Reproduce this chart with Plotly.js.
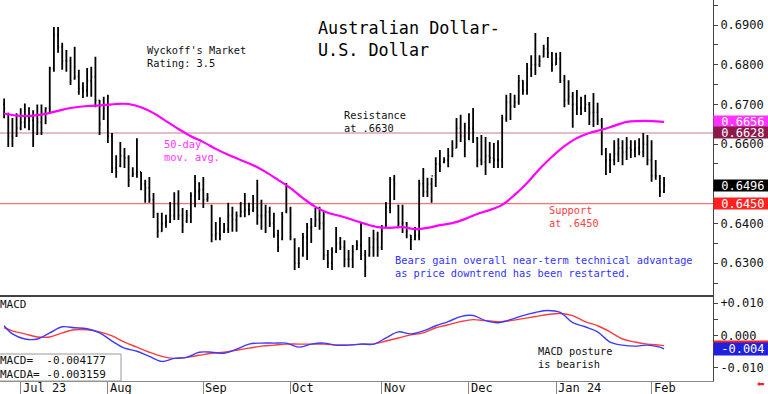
<!DOCTYPE html>
<html><head><meta charset="utf-8">
<script src="https://cdn.plot.ly/plotly-3.0.1.min.js"></script>
<style>html,body{margin:0;padding:0;background:#fff}#chart{width:768px;height:394px}</style>
</head><body><div id="chart"></div>
<script>
// ---- trading days (x categories) ----
const tradingDays = {
  '2023-06': [27,28,29,30],
  '2023-07': [3,4,5,6,7,10,11,12,13,14,17,18,19,20,21,24,25,26,27,28,31],
  '2023-08': [1,2,3,4,7,8,9,10,11,14,15,16,17,18,21,22,23,24,25,28,29,30,31],
  '2023-09': [1,4,5,6,7,8,11,12,13,14,15,18,19,20,21,22,25,26,27,28,29],
  '2023-10': [2,3,4,5,6,9,10,11,12,13,16,17,18,19,20,23,24,25,26,27,30,31],
  '2023-11': [1,2,3,6,7,8,9,10,13,14,15,16,17,20,21,22,24,27,28,29,30],
  '2023-12': [1,4,5,6,7,8,11,12,13,14,15,18,19,20,21,22,25,26,27,28,29],
  '2024-01': [1,2,3,4,5,8,9,10,11,12,15,16,17,18,19,22,23,24,25,26,29,30,31],
  '2024-02': [1,2,5,6]
};
const dates = [];
for (const m in tradingDays) tradingDays[m].forEach(d => dates.push(m + '-' + String(d).padStart(2,'0')));

// ---- price bars ----
const open = [.6700,.6675,.6620,.6620,.6640,.6655,.6665,.6660,.6625,.6655,.6680,.6690,.6790,.6875,.6845,.6810,.6810,.6765,.6770,.6740,
.6735,.6760,.6770,.6710,.6665,.6690,.6620,.6540,.6545,.6570,.6565,.6520,.6525,.6530,.6500,.6490,.6460,.6425,.6380,.6400,
.6405,.6420,.6450,.6420,.6405,.6420,.6470,.6480,.6485,.6460,.6445,.6370,.6375,.6380,.6385,.6420,.6410,.6420,.6430,.6435,
.6435,.6440,.6420,.6420,.6430,.6400,.6370,.6360,.6430,.6435,.6360,.6300,.6320,.6365,.6390,.6395,.6410,.6400,.6320,.6300,
.6330,.6350,.6340,.6310,.6310,.6335,.6345,.6320,.6320,.6340,.6360,.6340,.6395,.6440,.6510,.6445,.6400,.6400,.6370,.6360,
.6370,.6500,.6480,.6500,.6520,.6550,.6555,.6560,.6570,.6590,.6640,.6620,.6615,.6640,.6615,.6560,.6555,.6570,.6565,.6560,
.6560,.6665,.6705,.6695,.6705,.6760,.6735,.6790,.6800,.6800,.6820,.6840,.6830,.6800,.6815,.6760,.6710,.6720,.6700,.6690,
.6690,.6700,.6680,.6680,.6660,.6585,.6560,.6560,.6575,.6590,.6580,.6590,.6585,.6590,.6580,.6600,.6560,.6520,.6520,.6480];
const high = [.6715,.6679,.6666,.6678,.6690,.6702,.6693,.6685,.6700,.6700,.6693,.6795,.6895,.6895,.6855,.6837,.6820,.6845,.6787,.6756,
.6792,.6795,.6820,.6711,.6719,.6724,.6628,.6572,.6605,.6590,.6572,.6542,.6615,.6530,.6510,.6517,.6477,.6427,.6427,.6422,
.6454,.6479,.6484,.6439,.6434,.6479,.6522,.6504,.6517,.6477,.6447,.6404,.6416,.6401,.6452,.6442,.6430,.6454,.6477,.6452,
.6472,.6510,.6460,.6447,.6442,.6427,.6384,.6429,.6502,.6442,.6363,.6340,.6376,.6401,.6414,.6439,.6442,.6430,.6333,.6340,
.6391,.6366,.6358,.6333,.6346,.6358,.6401,.6333,.6366,.6384,.6379,.6396,.6454,.6517,.6522,.6447,.6447,.6404,.6371,.6391,
.6510,.6540,.6515,.6515,.6567,.6585,.6567,.6590,.6610,.6666,.6674,.6654,.6678,.6691,.6618,.6623,.6618,.6605,.6603,.6610,
.6674,.6724,.6729,.6724,.6774,.6761,.6804,.6824,.6880,.6824,.6850,.6870,.6832,.6830,.6832,.6774,.6761,.6731,.6736,.6719,
.6724,.6706,.6729,.6704,.6666,.6590,.6577,.6610,.6615,.6610,.6618,.6610,.6610,.6615,.6628,.6623,.6610,.6560,.6522,.6517];
const low = [.6665,.6593,.6593,.6618,.6635,.6640,.6635,.6593,.6623,.6623,.6650,.6678,.6782,.6830,.6787,.6782,.6749,.6762,.6724,.6716,
.6719,.6719,.6693,.6623,.6661,.6603,.6527,.6515,.6542,.6540,.6492,.6517,.6515,.6484,.6452,.6452,.6414,.6364,.6379,.6389,
.6401,.6409,.6409,.6376,.6401,.6401,.6441,.6459,.6439,.6455,.6353,.6358,.6358,.6376,.6376,.6379,.6379,.6416,.6416,.6421,
.6429,.6397,.6384,.6376,.6391,.6364,.6328,.6358,.6426,.6358,.6283,.6288,.6316,.6308,.6351,.6391,.6384,.6308,.6288,.6283,
.6326,.6333,.6290,.6290,.6288,.6333,.6308,.6265,.6316,.6316,.6316,.6333,.6391,.6426,.6459,.6391,.6376,.6363,.6333,.6358,
.6358,.6467,.6467,.6452,.6492,.6530,.6552,.6542,.6567,.6590,.6605,.6567,.6610,.6603,.6542,.6547,.6522,.6552,.6540,.6540,
.6540,.6656,.6661,.6691,.6699,.6724,.6724,.6769,.6774,.6794,.6819,.6817,.6782,.6799,.6754,.6693,.6699,.6641,.6673,.6673,
.6681,.6648,.6643,.6648,.6572,.6522,.6527,.6547,.6555,.6547,.6560,.6565,.6567,.6572,.6567,.6547,.6505,.6510,.6467,.6477];
const close = [.6690,.6620,.6615,.6640,.6655,.6665,.6660,.6620,.6655,.6680,.6690,.6790,.6875,.6845,.6810,.6810,.6760,.6770,.6740,.6735,
.6760,.6770,.6710,.6650,.6690,.6620,.6540,.6530,.6570,.6565,.6510,.6525,.6530,.6500,.6490,.6460,.6430,.6380,.6400,.6405,
.6420,.6450,.6420,.6395,.6420,.6470,.6480,.6485,.6460,.6465,.6370,.6375,.6370,.6385,.6420,.6410,.6420,.6430,.6435,.6435,
.6440,.6420,.6420,.6430,.6400,.6370,.6340,.6415,.6435,.6365,.6300,.6300,.6365,.6390,.6390,.6410,.6400,.6320,.6300,.6330,
.6350,.6340,.6310,.6310,.6330,.6345,.6320,.6290,.6340,.6360,.6340,.6380,.6440,.6510,.6500,.6400,.6400,.6380,.6360,.6370,
.6500,.6480,.6500,.6520,.6550,.6545,.6560,.6570,.6590,.6640,.6620,.6600,.6640,.6630,.6560,.6555,.6570,.6565,.6560,.6560,
.6665,.6705,.6695,.6705,.6760,.6735,.6790,.6800,.6800,.6810,.6840,.6830,.6800,.6815,.6760,.6710,.6720,.6700,.6690,.6690,
.6700,.6680,.6680,.6660,.6620,.6560,.6560,.6575,.6590,.6580,.6590,.6585,.6590,.6580,.6600,.6560,.6520,.6520,.6480,.6496];

// ---- 50-day moving average, read at sample bars ----
const maIdx = [0,4,8,12,16,20,24,27,30,33,36,39,42,45,48,51,54,57,60,63,66,69,72,75,78,81,84,87,90,93,96,99,102,105,108,111,114,117,120,123,126,129,132,135,138,141,144,147,150,153,156,159];
const maVals = [.6677,.6671,.6673,.6681,.6691,.6696,.6698,.6701,.6701,.6693,.6678,.6658,.6638,.6620,.6605,.6588,.6573,.6560,.6547,.6530,.6510,.6489,.6464,.6442,.6427,.6419,.6409,.6399,.6391,.6389,.6391,.6386,.6389,.6396,.6401,.6411,.6424,.6434,.6447,.6472,.6502,.6537,.6568,.6595,.6615,.6628,.6636,.6646,.6656,.6658,.6658,.6656];

// ---- MACD (blue) and MACD average (red), read at sample bars ----
const macdIdx = [0,2,5,8,11,14,17,20,23,26,29,32,35,38,41,44,47,50,53,56,59,62,65,68,71,74,77,80,83,86,89,92,95,98,101,104,107,110,113,116,119,122,125,128,131,134,137,140,143,146,149,152,155,158,159];
const macdVals = [0.0030,0.00047,-0.0011,-0.0011,0.00079,0.00268,0.00237,0.00205,0.00079,-0.00174,-0.00394,-0.00489,-0.00647,-0.00804,-0.0071,-0.00678,-0.0052,-0.0052,-0.00552,-0.00426,-0.00268,-0.00237,-0.00237,-0.00237,-0.00363,-0.00268,-0.00237,-0.003,-0.003,-0.00268,-0.00268,-0.00079,0.0011,0.00047,0.00142,0.003,0.00426,0.00584,0.00615,0.00457,0.00394,0.00489,0.00615,0.0071,0.00773,0.0071,0.00394,0.00268,0.0011,-0.00205,-0.003,-0.00331,-0.003,-0.00363,-0.004177];
const signalVals = [0.00237,0.00142,0.00047,-0.00047,-0.00047,0.00079,0.00174,0.00174,0.0011,-0.00016,-0.00205,-0.00363,-0.0052,-0.00647,-0.0071,-0.00678,-0.00615,-0.00552,-0.0052,-0.00457,-0.00394,-0.00331,-0.003,-0.00268,-0.00268,-0.00268,-0.00268,-0.003,-0.003,-0.00268,-0.00268,-0.00174,-0.00079,0.00016,0.00079,0.00237,0.00331,0.00426,0.00489,0.00457,0.00426,0.00457,0.0052,0.00584,0.00647,0.00678,0.00615,0.00426,0.003,0.0011,-0.0011,-0.00205,-0.00268,-0.003,-0.003159];

// ---- axes ticks / levels ----
const monthTickDates = ['2023-07-03','2023-08-01','2023-09-01','2023-10-02','2023-11-01','2023-12-01','2024-01-01','2024-02-01'];
const monthTickText = ['Jul 23','Aug','Sep','Oct','Nov','Dec','Jan 24','Feb'];
const priceTicks = [0.63,0.64,0.65,0.66,0.67,0.68,0.69];
const macdTicks = [0.01,0,-0.01];
const macdTickText = ['+0.010','0.000','-0.010'];
const resistanceLevel = 0.6628;
const supportLevel = 0.6450;

// ---- layout helpers (pixel placement) ----
const W = 768, H = 394, ML = 0, MR = 55, MT = 0, MB = 13;
const PW = W - ML - MR, PH = H - MT - MB;
const SPLIT = 296; // pixel y of panel boundary
const split = (PH - (SPLIT - MT)) / PH;
const FONT = 'DejaVu Sans Mono';
const px = x => (x - ML) / PW;
const py = y => (PH - (y - MT)) / PH;

function block(lines, x, yCenter, size, color) {
  return {xref:'paper', yref:'paper', x:px(x), y:py(yCenter), xanchor:'left', yanchor:'middle', align:'left',
    text:lines.join('<br>'), showarrow:false, borderpad:0, font:{family:FONT, size:size, color:color}};
}
function valueBox(text, yval, yref, bg, h) {
  return {xref:'paper', yref:yref, x:1, y:yval, xanchor:'left', yanchor:'middle',
    text:'\u00a0' + text, showarrow:false, bgcolor:bg, width:56, height:h || 11, align:'left', borderpad:0,
    font:{family:FONT, size:12, color:'#ffffff'}};
}

const lastMA = maVals[maVals.length-1];
const lastClose = close[close.length-1];
const lastMacd = macdVals[macdVals.length-1];
const lastSignal = signalVals[signalVals.length-1];

// the 0.6500 label sits under the last-price box in the reference, so it is not written
const priceTickText = priceTicks.map(v => Math.abs(v - 0.65) < 1e-9 ? '' : v.toFixed(4));

const traces = [
  {type:'ohlc', x:dates, open:open, high:high, low:low, close:close, xaxis:'x', yaxis:'y',
   increasing:{line:{color:'#000000', width:1.8}}, decreasing:{line:{color:'#000000', width:1.8}},
   tickwidth:0.25, hoverinfo:'skip', showlegend:false},
  {type:'scatter', mode:'lines', x:maIdx.map(i=>dates[i]), y:maVals, xaxis:'x', yaxis:'y',
   line:{color:'#ff00ff', width:2.2, shape:'spline'}, hoverinfo:'skip', showlegend:false},
  {type:'scatter', mode:'lines', x:macdIdx.map(i=>dates[i]), y:signalVals, xaxis:'x', yaxis:'y2',
   line:{color:'#ff3b3b', width:1.4, shape:'spline'}, hoverinfo:'skip', showlegend:false},
  {type:'scatter', mode:'lines', x:macdIdx.map(i=>dates[i]), y:macdVals, xaxis:'x', yaxis:'y2',
   line:{color:'#3b3bff', width:1.4, shape:'spline'}, hoverinfo:'skip', showlegend:false}
];

const priceTop = 0.69 + 25/3970, priceBot = 0.69 - 271/3970;

const monthLabels = monthTickDates.map((d, k) => ({
  xref:'x', yref:'paper', x:d, y:py(388), xanchor:'left', yanchor:'middle', xshift:1,
  text:monthTickText[k], showarrow:false, borderpad:0, font:{family:FONT, size:12, color:'#111'}
}));

const layout = {
  width:W, height:H, margin:{l:ML, r:MR, t:MT, b:MB},
  paper_bgcolor:'#ffffff', plot_bgcolor:'#ffffff', showlegend:false,
  font:{family:FONT, size:12, color:'#111'},
  xaxis:{type:'category', categoryorder:'array', categoryarray:dates, range:[-0.99, 170.8], anchor:'y2',
    rangeslider:{visible:false}, showgrid:false, zeroline:false,
    showline:true, linecolor:'#888', linewidth:1,
    tickmode:'array', tickvals:monthTickDates, ticktext:monthTickDates.map(()=>''),
    ticks:'outside', ticklen:13, tickcolor:'#888', tickwidth:1},
  yaxis:{domain:[split,1], range:[priceBot, priceTop], side:'right', anchor:'x',
    showgrid:false, zeroline:false, showline:true, linecolor:'#444', linewidth:1,
    tickmode:'array', tickvals:priceTicks, ticktext:priceTickText,
    ticks:'outside', ticklen:4, tickcolor:'#444',
    minor:{ticks:'outside', ticklen:4, tickcolor:'#444', dtick:0.005, tick0:0.6},
    tickfont:{family:FONT, size:12, color:'#111'}},
  yaxis2:{domain:[0,split], range:[-0.0141, 0.0122], side:'right', anchor:'x',
    showgrid:false, zeroline:false, showline:true, linecolor:'#444', linewidth:1,
    tickmode:'array', tickvals:macdTicks, ticktext:macdTickText,
    ticks:'outside', ticklen:4, tickcolor:'#444',
    minor:{ticks:'outside', ticklen:4, tickcolor:'#444', dtick:0.005, tick0:0},
    tickfont:{family:FONT, size:12, color:'#111'}},
  shapes:[
    {type:'line', xref:'paper', yref:'y', x0:0, x1:1, y0:resistanceLevel, y1:resistanceLevel,
     line:{color:'#d9a6bd', width:1.6}, layer:'below'},
    {type:'line', xref:'paper', yref:'y', x0:0, x1:1, y0:supportLevel, y1:supportLevel,
     line:{color:'#ff7474', width:1.4}, layer:'below'},
    {type:'line', xref:'paper', yref:'paper', x0:0, x1:1, y0:split, y1:split,
     line:{color:'#000000', width:1.6}},
    {type:'rect', xref:'paper', yref:'paper', x0:px(-2), x1:px(121), y0:0, y1:py(354),
     line:{color:'#999999', width:1}, fillcolor:'#ffffff'}
  ],
  annotations:[
    block(['Australian Dollar-','U.S. Dollar'], 317, 38.5, 16.8, '#000'),
    block(["Wyckoff's Market",'Rating: 3.5'], 146, 56.5, 10.3, '#111'),
    block(['50-day','mov. avg.'], 163, 150, 10.3, '#ff33ff'),
    block(['Resistance','at .6630'], 343, 121.5, 10.3, '#111'),
    block(['Support','at .6450'], 548, 216.5, 10.3, '#ff4040'),
    block(['Bears gain overall near-term technical advantage','as price downtrend has been restarted.'], 394, 266, 10.3, '#3333ff'),
    block(['MACD'], -1, 304, 11, '#111'),
    block(['MACD posture','is bearish'], 537, 357, 10.3, '#111'),
    block(['MACD=\u00a0\u00a0' + lastMacd.toFixed(6), 'MACDA=\u00a0' + lastSignal.toFixed(6)], -1, 367.8, 11, '#111'),
    valueBox(lastMA.toFixed(4), lastMA, 'y', '#ff33ff'),
    valueBox(resistanceLevel.toFixed(4), resistanceLevel, 'y', '#8b1a4a'),
    valueBox(lastClose.toFixed(4), lastClose, 'y', '#000000'),
    valueBox(supportLevel.toFixed(4), supportLevel, 'y', '#ff2020'),
    valueBox('', lastSignal, 'y2', '#ff2020', 9),
    valueBox(lastMacd.toFixed(3), lastMacd, 'y2', '#2020dd', 12),
    {xref:'paper', yref:'paper', x:px(756), y:py(384), xanchor:'left', yanchor:'middle',
     text:'\u2b05', showarrow:false, borderpad:0, font:{family:'DejaVu Sans', size:9, color:'#ff2020'}}
  ].concat(monthLabels)
};

Plotly.newPlot('chart', traces, layout, {staticPlot:true, displayModeBar:false});
</script>
</body></html>
